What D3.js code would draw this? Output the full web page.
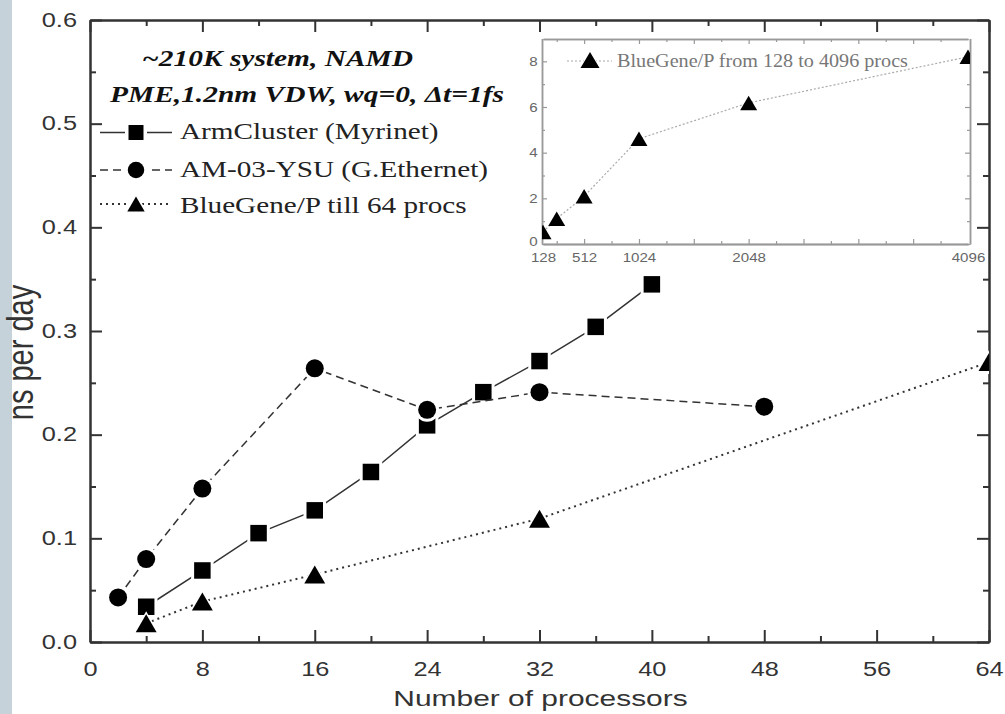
<!DOCTYPE html>
<html><head><meta charset="utf-8">
<script src="https://cdnjs.cloudflare.com/ajax/libs/d3/7.8.5/d3.min.js"></script>
<style>body{margin:0;background:#fff;}svg{display:block;}</style>
</head><body>
<script>
// ---- data ----
const armX = [4, 8, 12, 16, 20, 24, 28, 32, 36, 40];
const armY = [0.034, 0.069, 0.105, 0.127, 0.164, 0.209, 0.241, 0.271, 0.304, 0.345];
const amX = [2, 4, 8, 16, 24, 32, 48];
const amY = [0.043, 0.080, 0.148, 0.264, 0.224, 0.241, 0.227];
const bgX = [4, 8, 16, 32, 64];
const bgY = [0.018, 0.039, 0.065, 0.119, 0.270];
const insetX = [128, 256, 512, 1024, 2048, 4096];
const insetY = [0.53, 1.11, 2.09, 4.61, 6.18, 8.2];
const xTicks = [0, 8, 16, 24, 32, 40, 48, 56, 64];
const xMinor = [4, 12, 20, 28, 36, 44, 52, 60];
const yTicks = [0, 0.1, 0.2, 0.3, 0.4, 0.5, 0.6];
const yMinor = [0.05, 0.15, 0.25, 0.35, 0.45, 0.55];
const insetXLabels = [128, 512, 1024, 2048, 4096];
const insetXMajor = [512, 1024, 1536, 2048, 2560, 3072, 3584];
const insetXMinor = [256, 768, 1280, 1792, 2304, 2816, 3328, 3840];
const insetYTicks = [0, 2, 4, 6, 8];
const insetYMinor = [1, 3, 5, 7];
const titleLines = ["~210K system, NAMD", "PME,1.2nm VDW, wq=0, \u0394t=1fs"];
const seriesNames = ["ArmCluster (Myrinet)", "AM-03-YSU (G.Ethernet)", "BlueGene/P till 64 procs"];
const insetName = "BlueGene/P from 128 to 4096 procs";

const SX = 1.3;
const W = 1005, H = 714;
const svg = d3.select("body").append("svg").attr("width", W).attr("height", H);
svg.append("rect").attr("width", W).attr("height", H).attr("fill", "#fff");
svg.append("rect").attr("x", 0).attr("y", 0).attr("width", 12).attr("height", H).attr("fill", "#c6d2da");

const L = 90, R = 989, T = 20, B = 642;
const x = d3.scaleLinear().domain([0, 64]).range([L, R]);
const y = d3.scaleLinear().domain([0, 0.6]).range([B, T]);

function sText(g, px, py, str, o) {
  return g.append("text")
    .attr("transform", `translate(${px},${py}) scale(${o.sx || SX},1)` + (o.rot ? ` rotate(${o.rot})` : ""))
    .attr("text-anchor", o.anchor || "start")
    .attr("font-family", o.family || "'Liberation Sans', Arial, sans-serif")
    .attr("font-size", o.size)
    .attr("font-weight", o.weight || "normal")
    .attr("font-style", o.style || "normal")
    .attr("fill", o.fill || "#222")
    .text(str);
}

const defs = svg.append("defs");
defs.append("clipPath").attr("id", "plotClip").append("rect")
  .attr("x", L).attr("y", T).attr("width", R - L).attr("height", B - T);

// ---- axes ----
const axColor = "#333";
function styleAxis(g, w) {
  g.selectAll("path.domain").attr("stroke", axColor).attr("stroke-width", w);
  g.selectAll(".tick line").attr("stroke", axColor).attr("stroke-width", w);
}
const gxB = svg.append("g").attr("transform", `translate(0,${B})`)
  .call(d3.axisBottom(x).tickValues(xTicks).tickSize(-12).tickSizeOuter(0).tickPadding(20).tickFormat(d3.format("d")));
styleAxis(gxB, 2);
gxB.selectAll("text").attr("font-family", "'Liberation Sans', Arial, sans-serif").attr("font-size", 19.5)
  .attr("fill", "#333").attr("transform", `scale(${SX},1)`);
svg.append("g").attr("transform", `translate(0,${B})`)
  .call(d3.axisBottom(x).tickValues(xMinor).tickSize(-6).tickSizeOuter(0).tickFormat(""))
  .call(g => styleAxis(g, 2));

const gyL = svg.append("g").attr("transform", `translate(${L},0)`)
  .call(d3.axisLeft(y).tickValues(yTicks).tickSize(-12).tickSizeOuter(0).tickPadding(10).tickFormat(d3.format(".1f")));
styleAxis(gyL, 2);
gyL.selectAll("text").attr("font-family", "'Liberation Sans', Arial, sans-serif").attr("font-size", 19.5)
  .attr("fill", "#333").attr("transform", `scale(${SX},1)`);
svg.append("g").attr("transform", `translate(${L},0)`)
  .call(d3.axisLeft(y).tickValues(yMinor).tickSize(-6).tickSizeOuter(0).tickFormat(""))
  .call(g => styleAxis(g, 2));

svg.append("g").attr("transform", `translate(0,${T})`)
  .call(d3.axisTop(x).tickValues(xTicks).tickSize(-12).tickSizeOuter(0).tickFormat(""))
  .call(g => styleAxis(g, 2));
svg.append("g").attr("transform", `translate(0,${T})`)
  .call(d3.axisTop(x).tickValues(xMinor).tickSize(-6).tickSizeOuter(0).tickFormat(""))
  .call(g => styleAxis(g, 2));
svg.append("g").attr("transform", `translate(${R},0)`)
  .call(d3.axisRight(y).tickValues(yTicks).tickSize(-12).tickSizeOuter(0).tickFormat(""))
  .call(g => styleAxis(g, 2));
svg.append("g").attr("transform", `translate(${R},0)`)
  .call(d3.axisRight(y).tickValues(yMinor).tickSize(-6).tickSizeOuter(0).tickFormat(""))
  .call(g => styleAxis(g, 2));

// axis titles
sText(svg, 540.5, 706, "Number of processors", { size: 22.5, fill: "#333", anchor: "middle", sx: 1.33 });
sText(svg, 33, 352.5, "ns per day", { size: 29, fill: "#333", anchor: "middle", rot: -90 });

// ---- markers ----
const triPath = (w, h) => `M0,${-h / 2}L${w / 2},${h / 2}L${-w / 2},${h / 2}Z`;
const shapes = {
  square: { path: s => d3.symbol(d3.symbolSquare, s * s)(), size: 16.5 },
  circle: { path: s => d3.symbol(d3.symbolCircle, Math.PI * (s / 2) * (s / 2))(), size: 18 },
  triangle: { path: s => triPath(s * 1.16, s), size: 18 }
};

const series = [
  { xs: armX, ys: armY, shape: "square", dash: null, width: 1.5 },
  { xs: amX, ys: amY, shape: "circle", dash: "8,5", width: 1.5 },
  { xs: bgX, ys: bgY, shape: "triangle", dash: "2,4", width: 2 }
];

const plot = svg.append("g").attr("clip-path", "url(#plotClip)");
series.forEach(s => {
  const pts = s.xs.map((v, i) => [v, s.ys[i]]);
  const line = d3.line().x(d => x(d[0])).y(d => y(d[1]));
  plot.append("path").attr("d", line(pts)).attr("fill", "none")
    .attr("stroke", "#333").attr("stroke-width", s.width)
    .attr("stroke-dasharray", s.dash);
  const sh = shapes[s.shape];
  plot.selectAll(null).data(pts).enter().append("path")
    .attr("transform", d => `translate(${x(d[0])},${y(d[1])})`)
    .attr("d", sh.path(sh.size + 6)).attr("fill", "#fff");
  plot.selectAll(null).data(pts).enter().append("path")
    .attr("transform", d => `translate(${x(d[0])},${y(d[1])})`)
    .attr("d", sh.path(sh.size)).attr("fill", "#000");
});

// ---- legend ----
sText(svg, 142, 66, titleLines[0], { size: 23, family: "'Liberation Serif', 'Times New Roman', serif", weight: "bold", style: "italic", fill: "#111", sx: 1.28 });
sText(svg, 110, 102, titleLines[1], { size: 23, family: "'Liberation Serif', 'Times New Roman', serif", weight: "bold", style: "italic", fill: "#111", sx: 1.28 });
const legY = [132.5, 170, 204];
const legSizes = [15, 16.5, 15];
series.forEach((s, i) => {
  const yy = legY[i];
  svg.append("line").attr("x1", 100).attr("x2", 172).attr("y1", yy).attr("y2", yy)
    .attr("stroke", "#333").attr("stroke-width", s.width).attr("stroke-dasharray", s.dash);
  const sh = shapes[s.shape];
  svg.append("path").attr("transform", `translate(136,${yy})`).attr("d", sh.path(legSizes[i] + 7)).attr("fill", "#fff");
  svg.append("path").attr("transform", `translate(136,${yy})`).attr("d", sh.path(legSizes[i])).attr("fill", "#000");
  sText(svg, 180, [139, 177, 213][i], seriesNames[i], { size: 23, family: "'Liberation Serif', 'Times New Roman', serif", fill: "#222", sx: 1.27 });
});

// ---- inset ----
const iL = 542, iR = 970, iT = 39, iB = 244;
const xi = d3.scaleLinear().domain([128, 4096]).range([543, 968]);
const yi = d3.scaleLinear().domain([0, 9]).range([iB, 38.5]);
const inset = svg.append("g");
defs.append("clipPath").attr("id", "insetClip").append("rect")
  .attr("x", iL).attr("y", iT).attr("width", iR - iL).attr("height", iB - iT);
inset.append("rect").attr("x", iL).attr("y", iT).attr("width", iR - iL).attr("height", iB - iT)
  .attr("fill", "#fff");
const iColor = "#999";
function styleI(g) {
  g.selectAll("path.domain").attr("stroke", iColor).attr("stroke-width", 1.5);
  g.selectAll(".tick line").attr("stroke", iColor).attr("stroke-width", 1.2);
}
const xiB = inset.append("g").attr("transform", `translate(0,${iB})`)
  .call(d3.axisBottom(xi).tickValues(insetXLabels).tickSize(0).tickSizeOuter(0).tickPadding(8).tickFormat(d3.format("d")));
styleI(xiB);
xiB.selectAll("text").attr("font-family", "'Liberation Sans', Arial, sans-serif").attr("font-size", 13.5)
  .attr("fill", "#666").attr("transform", "scale(1.12,1)");
inset.append("g").attr("transform", `translate(0,${iB})`)
  .call(d3.axisBottom(xi).tickValues(insetXMajor).tickSize(-5).tickSizeOuter(0).tickFormat("")).call(styleI);
inset.append("g").attr("transform", `translate(0,${iB})`)
  .call(d3.axisBottom(xi).tickValues(insetXMinor).tickSize(-3).tickSizeOuter(0).tickFormat("")).call(styleI);
inset.append("g").attr("transform", `translate(0,${iT})`)
  .call(d3.axisTop(xi).tickValues(insetXMajor).tickSize(-5).tickSizeOuter(0).tickFormat("")).call(styleI);
inset.append("g").attr("transform", `translate(0,${iT})`)
  .call(d3.axisTop(xi).tickValues(insetXMinor).tickSize(-3).tickSizeOuter(0).tickFormat("")).call(styleI);
const yiL = inset.append("g").attr("transform", `translate(${iL},0)`)
  .call(d3.axisLeft(yi).tickValues(insetYTicks).tickSize(-5).tickSizeOuter(0).tickPadding(4).tickFormat(d3.format("d")));
styleI(yiL);
yiL.selectAll("text").attr("font-family", "'Liberation Sans', Arial, sans-serif").attr("font-size", 13.5)
  .attr("fill", "#666").attr("transform", "scale(1.12,1)");
yiL.selectAll("text").filter(d => d === 0).attr("dy", "0.1em");
inset.append("g").attr("transform", `translate(${iL},0)`)
  .call(d3.axisLeft(yi).tickValues(insetYMinor).tickSize(-3).tickSizeOuter(0).tickFormat("")).call(styleI);
inset.append("g").attr("transform", `translate(${iR},0)`)
  .call(d3.axisRight(yi).tickValues(insetYTicks).tickSize(-5).tickSizeOuter(0).tickFormat("")).call(styleI);
inset.append("g").attr("transform", `translate(${iR},0)`)
  .call(d3.axisRight(yi).tickValues(insetYMinor).tickSize(-3).tickSizeOuter(0).tickFormat("")).call(styleI);

const ipts = insetX.map((v, i) => [v, insetY[i]]);
const ip = inset.append("g").attr("clip-path", "url(#insetClip)");
ip.append("path").attr("d", d3.line().x(d => xi(d[0])).y(d => yi(d[1]))(ipts))
  .attr("fill", "none").attr("stroke", "#aaa").attr("stroke-width", 1.2).attr("stroke-dasharray", "2,2");
ip.selectAll(null).data(ipts).enter().append("path")
  .attr("transform", d => `translate(${xi(d[0])},${yi(d[1])})`)
  .attr("d", triPath(17, 14.5)).attr("fill", "#000");

// inset legend
inset.append("line").attr("x1", 567).attr("x2", 612).attr("y1", 61).attr("y2", 61)
  .attr("stroke", "#aaa").attr("stroke-width", 1.2).attr("stroke-dasharray", "2,2");
inset.append("path").attr("transform", "translate(590,60)").attr("d", triPath(23, 19)).attr("fill", "#fff");
inset.append("path").attr("transform", "translate(590,60)").attr("d", triPath(19, 16)).attr("fill", "#000");
sText(inset, 617, 66.5, insetName, { size: 18, family: "'Liberation Serif', 'Times New Roman', serif", fill: "#777", sx: 1.12 });
</script>
</body></html>
